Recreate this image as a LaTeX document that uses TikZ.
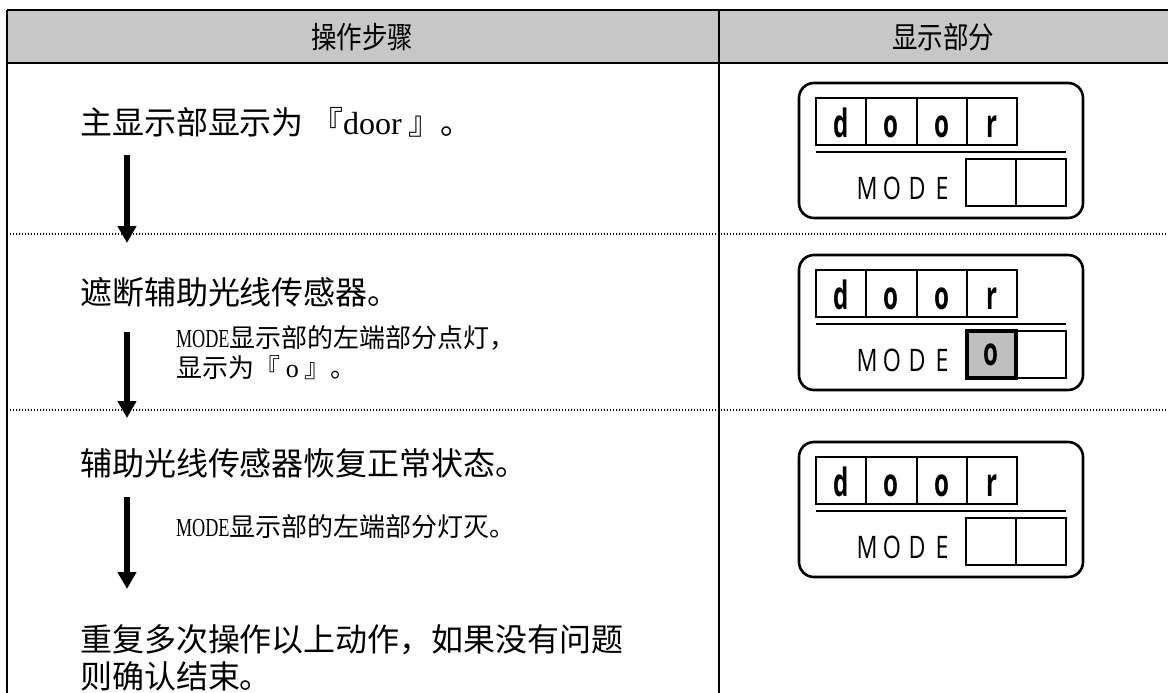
\documentclass[tikz,border=0pt]{standalone}
\usepackage{fontspec}
\setmainfont{Liberation Serif}
\newfontfamily\cjk{Noto Sans CJK SC}
\newfontfamily\cjknarrow[FakeStretch=0.85]{Noto Sans CJK SC}
\newfontfamily\narrowserif[FakeStretch=0.7]{Liberation Serif}
\newfontfamily\segfont[FakeStretch=0.62]{Open Sans}
\newfontfamily\labelfont[FakeStretch=0.75]{Open Sans}
\usetikzlibrary{arrows.meta, positioning, calc}

\begin{document}
\begin{tikzpicture}[x=1pt, y=-1pt, >={Triangle[width=18pt,length=17pt]},
  every node/.style={inner sep=0pt, outer sep=0pt},
  frame/.style={line width=2.8pt},
  sepline/.style={line width=1.4pt, dash pattern=on 1.4pt off 1.6pt},
  panel/.style={line width=2.6pt, rounded corners=15pt},
  cell/.style={line width=2pt},
  flow/.style={->, line width=6pt},
  headtext/.style={font=\cjknarrow\fontsize{30}{32}\selectfont},
  bigtext/.style={anchor=west, align=left, font=\cjk\fontsize{32}{37}\selectfont},
  smalltext/.style={anchor=west, align=left, font=\cjk\fontsize{26}{30}\selectfont},
  digit/.style={anchor=base, font=\segfont\bfseries\fontsize{39}{39}\selectfont},
  modeletter/.style={anchor=base, font=\labelfont\fontsize{31}{31}\selectfont}]

  % adjustable parameters
  \def\W{1168}   % picture width
  \def\H{693}    % picture height
  \def\xs{719}   % column divider

  \useasboundingbox (0,0) rectangle (\W,\H);

  % header row
  \fill[black!22] (7,10) rectangle (\W,63);
  \draw[frame] (7,10) -- (\W,10);
  \draw[frame] (7,63) -- (\W,63);
  \node[headtext] (hsteps) at (362,37) {操作步骤};
  \node[headtext] (hshow) at (943,37) {显示部分};

  % table frame
  \draw[frame] (7,10) -- (7,\H);
  \draw[line width=2.4pt] (\xs,10) -- (\xs,\H);
  \draw[sepline] (7,234) -- (\W,234);
  \draw[sepline] (7,410) -- (\W,410);

  % left column texts
  \node[bigtext] (step1) at (80,122) {主显示部显示为\ 『{\rmfamily door}\ 』。};
  \node[bigtext] (step2) at (80,292) {遮断辅助光线传感器。};
  \node[smalltext] (note2) at (176,353) {{\narrowserif MODE}显示部的左端部分点灯，\\显示为『\ {\rmfamily o}\ 』。};
  \node[bigtext] (step3) at (80,463) {辅助光线传感器恢复正常状态。};
  \node[smalltext] (note3) at (176,527) {{\narrowserif MODE}显示部的左端部分灯灭。};
  \node[bigtext] (step4) at (80,658) {重复多次操作以上动作，如果没有问题\\则确认结束。};

  % flow arrows
  \coordinate (a1s) at (127,155);
  \coordinate (a1e) at (127,243);
  \coordinate (a2s) at (127,332);
  \coordinate (a2e) at (127,418);
  \coordinate (a3s) at (127,497);
  \coordinate (a3e) at (127,589);
  \draw[flow] (a1s) -- (a1e);
  \draw[flow] (a2s) -- (a2e);
  \draw[flow] (a3s) -- (a3e);

  % display panels
  \foreach \T [count=\i] in {83,255,442} {
    \draw[panel] (799,\T) rectangle ++(284,135);
    % main display cells
    \draw[cell] (816,\T+15) rectangle (1017,\T+62);
    \foreach \x in {866,917,967}
      \draw[cell] (\x,\T+15) -- (\x,\T+62);
    \node[digit] (d\i a) at (841,\T+54) {d};
    \node[digit] (d\i b) at (891,\T+54) {o};
    \node[digit] (d\i c) at (942,\T+54) {o};
    \node[digit] (d\i d) at (992,\T+54) {r};
    \draw[line width=2.6pt] (816,\T+69) -- (1066,\T+69);
    % MODE label and cells
    \node[modeletter] (m\i a) at (867,\T+116) {M};
    \node[modeletter] (m\i b) at (892,\T+116) {O};
    \node[modeletter] (m\i c) at (917,\T+116) {D};
    \node[modeletter] (m\i d) at (942,\T+116) {E};
    \draw[cell] (966,\T+76) rectangle (1066,\T+123);
    \draw[cell] (1016,\T+76) -- (1016,\T+123);
  }

  % lit MODE cell in the second panel
  \filldraw[fill=black!25, line width=3.4pt] (967,331) rectangle (1016,378);
  \node[digit] (lit) at (991,365) {o};

\end{tikzpicture}
\end{document}
